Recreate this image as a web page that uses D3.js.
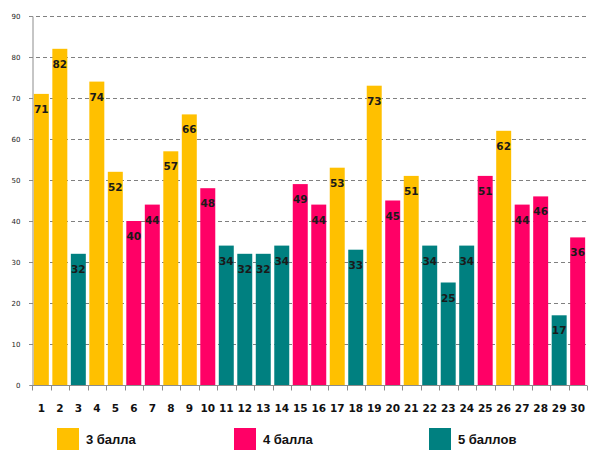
<!DOCTYPE html>
<html>
<head>
<meta charset="utf-8">
<script src="https://cdn.jsdelivr.net/npm/d3@7"></script>
<style>
body { margin: 0; background: #fff; }
</style>
</head>
<body>
<script>
// CHART DATA

var categories = [1,2,3,4,5,6,7,8,9,10,11,12,13,14,15,16,17,18,19,20,21,22,23,24,25,26,27,28,29,30];
var values = [71,82,32,74,52,40,44,57,66,48,34,32,32,34,49,44,53,33,73,45,51,34,25,34,51,62,44,46,17,36];
// grade group of every bar: 3, 4 or 5
var grades = [3,3,5,3,3,4,4,3,3,4,5,5,5,5,4,4,3,5,3,4,3,5,5,5,4,3,4,4,5,4];
var y_ticks = [0,10,20,30,40,50,60,70,80,90];
var legend_labels = ["3 балла","4 балла","5 баллов"];
var legend_grades = [3,4,5];

var colors = {3:"#ffc000", 4:"#ff0066", 5:"#008080"};

// SVG SETUP

var width = 598, height = 460;
var plot = {left:32, right:587, top:16, bottom:385};

var svg = d3.select("body")
			.append("svg")
			.attr("width", width)
			.attr("height", height);

var x = d3.scaleBand()
		.domain(categories)
		.range([plot.left, plot.right])
		.paddingInner(0.19)
		.paddingOuter(0.1);

var y = d3.scaleLinear()
		.domain([0,90])
		.range([plot.bottom, plot.top]);

// gridlines
svg.selectAll("line.grid")
	.data(y_ticks.filter(function(d){return d>0}))
	.enter()
	.append("line")
	.attr("class","grid")
	.attr("x1", plot.left-3)
	.attr("x2", plot.right)
	.attr("y1", function(d){return y(d)+0.5})
	.attr("y2", function(d){return y(d)+0.5})
	.attr("stroke","#808080")
	.attr("stroke-width",1)
	.attr("stroke-dasharray","4,3");

// y axis
var y_axis = svg.append("g")
	.attr("transform","translate("+(plot.left+0.5)+",0)")
	.call(d3.axisLeft(y).tickValues(y_ticks).tickSize(3).tickPadding(9));
y_axis.selectAll("text")
	.attr("font-family","DejaVu Sans")
	.attr("font-size","7px")
	.attr("fill","#222");
y_axis.selectAll("line, path").attr("stroke","#8c8c8c");

// bars
svg.selectAll("rect.bar")
	.data(categories)
	.enter()
	.append("rect")
	.attr("class","bar")
	.attr("x",function(d){return x(d)})
	.attr("y",function(d,i){return y(values[i])})
	.attr("width",x.bandwidth())
	.attr("height",function(d,i){return y(0)-y(values[i])})
	.attr("fill",function(d,i){return colors[grades[i]]});

// value labels
svg.selectAll("text.value")
	.data(categories)
	.enter()
	.append("text")
	.attr("class","value")
	.attr("x",function(d){return x(d)+x.bandwidth()/2})
	.attr("y",function(d,i){return y(values[i])+19})
	.attr("text-anchor","middle")
	.attr("font-family","DejaVu Sans")
	.attr("font-weight","bold")
	.attr("font-size","10.5px")
	.attr("fill","#1a1a1a")
	.text(function(d,i){return values[i]});

// x axis with ticks between the bars
var x_axis = svg.append("g")
	.attr("transform","translate(0,"+(plot.bottom+0.5)+")");
x_axis.append("line")
	.attr("x1",plot.left)
	.attr("x2",plot.right)
	.attr("stroke","#8c8c8c");
var step = x.step();
x_axis.selectAll("line.tick")
	.data(d3.range(categories.length+1))
	.enter()
	.append("line")
	.attr("class","tick")
	.attr("x1",function(i){return Math.round(plot.left+i*(plot.right-plot.left)/categories.length)+0.5})
	.attr("x2",function(i){return Math.round(plot.left+i*(plot.right-plot.left)/categories.length)+0.5})
	.attr("y1",0)
	.attr("y2",5)
	.attr("stroke","#8c8c8c");
x_axis.selectAll("text")
	.data(categories)
	.enter()
	.append("text")
	.attr("x",function(d){return x(d)+x.bandwidth()/2})
	.attr("y",26)
	.attr("text-anchor","middle")
	.attr("font-family","DejaVu Sans")
	.attr("font-weight","bold")
	.attr("font-size","10.5px")
	.attr("fill","#111")
	.text(function(d){return d});

// legend
var legend_x = [57,234,429];
var legend = svg.selectAll("g.legend")
	.data(legend_grades)
	.enter()
	.append("g")
	.attr("class","legend")
	.attr("transform",function(d,i){return "translate("+legend_x[i]+",428)"});
legend.append("rect")
	.attr("width",22)
	.attr("height",22)
	.attr("fill",function(d){return colors[d]});
legend.append("text")
	.attr("x",29)
	.attr("y",16)
	.attr("font-family","Liberation Sans")
	.attr("font-weight","bold")
	.attr("font-size","13px")
	.attr("fill","#111")
	.text(function(d,i){return legend_labels[i]});
</script>
</body>
</html>
